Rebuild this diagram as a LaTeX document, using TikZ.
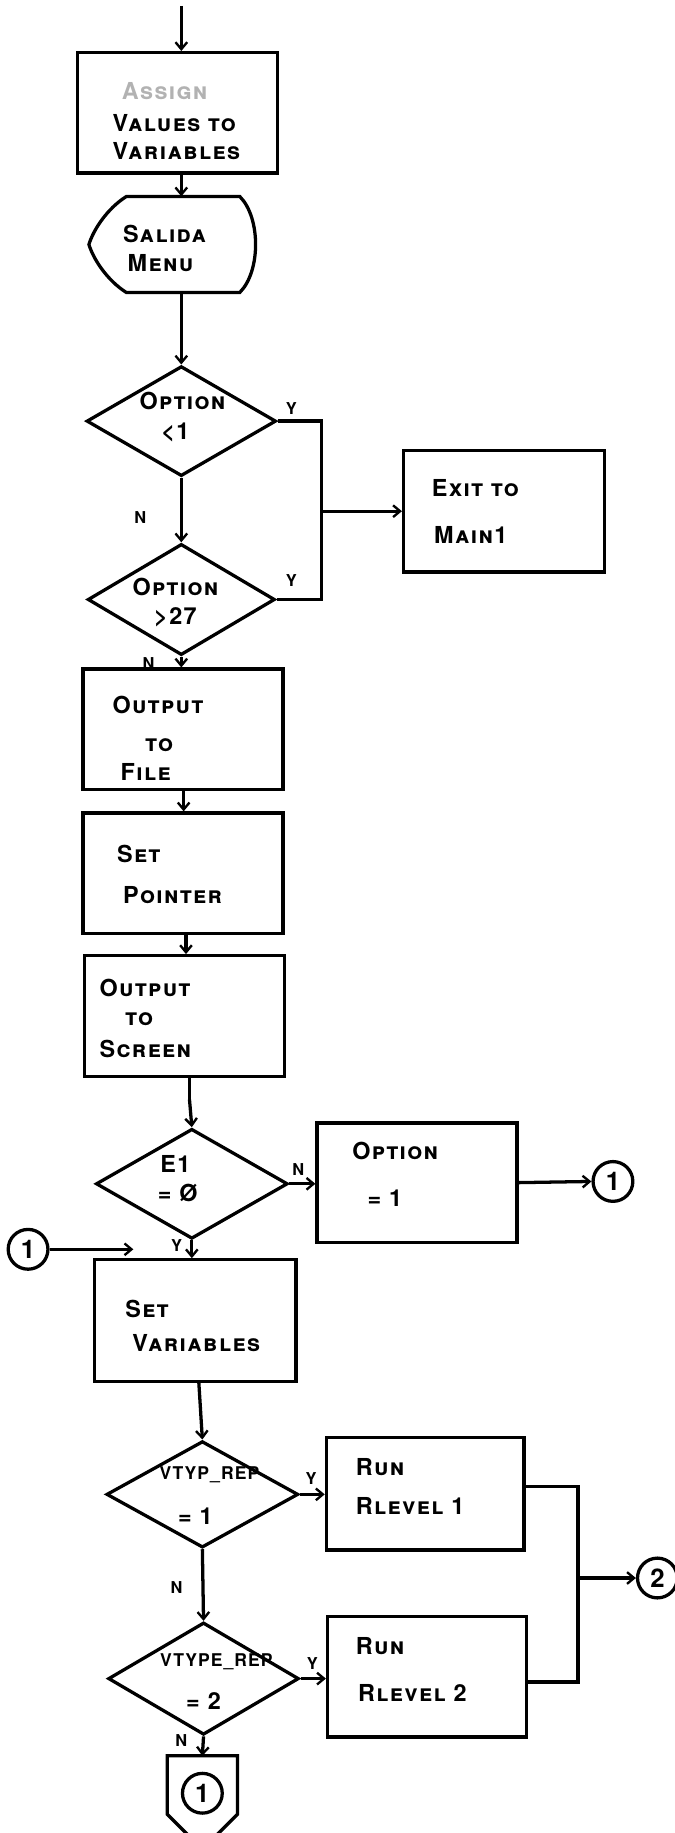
\documentclass[tikz,border=0pt]{standalone}
\usepackage{fontspec}
\newfontfamily\hand[LetterSpace=6]{TeX Gyre Heros}
\usetikzlibrary{shapes.geometric,arrows.meta,calc}
\tikzset{
  ln/.style={line width=2.8pt, line join=miter},
  arr/.style={ln, -{Straight Barb[length=6pt,width=10pt,line width=2pt]}},
  procbox/.style={draw, rectangle, line width=2.8pt, inner sep=0pt},
  dia/.style={draw, diamond, line width=2.8pt, inner sep=0pt},
  circ/.style={draw, circle, line width=2.8pt, inner sep=0pt, minimum size=34pt, font=\hand\bfseries\fontsize{22}{24}\selectfont},
  txt/.style={anchor=west, inner sep=0pt, font=\hand\bfseries\scshape\fontsize{20}{22}\selectfont},
  ctxt/.style={inner sep=0pt, font=\hand\bfseries\scshape\fontsize{20}{22}\selectfont},
  lab/.style={inner sep=0pt, font=\hand\bfseries\scshape\fontsize{14}{16}\selectfont}
}
\begin{document}
\begin{tikzpicture}[x=1pt,y=-1pt]
\useasboundingbox (0,0) rectangle (577,1567);
\clip (0,0) rectangle (577,1567);

% ---- boxes ----
\node[procbox, minimum width=171pt, minimum height=103pt] (b1) at (152,96.5) {};
\node[minimum width=144pt, minimum height=82pt, inner sep=0pt] (salida) at (148,209) {};
\draw[ln] (108,168) -- (205,168) .. controls (223,186) and (223,232) .. (205,250) -- (108,250)
  .. controls (92,240) and (80,222) .. (76,209) .. controls (80,196) and (92,178) .. (108,168) -- cycle;
\node[dia, minimum width=162pt, minimum height=94pt] (d1) at (155,360) {};
\node[dia, minimum width=160pt, minimum height=95pt] (d2) at (155,512.5) {};
\node[procbox, minimum width=172pt, minimum height=104pt] (exit) at (431,437) {};
\node[procbox, minimum width=171pt, minimum height=103pt] (file) at (156.5,623.5) {};
\node[procbox, minimum width=171pt, minimum height=103pt] (pointer) at (156.5,746.5) {};
\node[procbox, minimum width=171pt, minimum height=103pt] (screen) at (157.5,868.5) {};
\node[dia, minimum width=164pt, minimum height=94pt] (d3) at (164,1012) {};
\node[procbox, minimum width=171pt, minimum height=102pt] (opt1) at (356.5,1011) {};
\node[circ] (c1r) at (524,1010) {1};
\node[circ] (c1l) at (24,1068) {1};
\coordinate (c1tip) at (114,1068);
\node[procbox, minimum width=172pt, minimum height=104pt] (setvar) at (167,1129) {};
\node[dia, minimum width=164pt, minimum height=91pt] (d4) at (173,1277.5) {};
\node[procbox, minimum width=169pt, minimum height=96pt] (rl1) at (363.5,1277) {};
\node[dia, minimum width=163pt, minimum height=96pt] (d5) at (174,1435) {};
\node[procbox, minimum width=170pt, minimum height=103pt] (rl2) at (365,1433.5) {};
\node[circ] (c2) at (562,1349) {2};
\coordinate (offtop) at (173,1501);
\draw[ln] (143,1501) -- (203,1501) -- (203,1551) -- (173,1581) -- (143,1551) -- cycle;
\node[circ] (c3) at (173,1533) {1};

% ---- texts ----
\node[txt, text=black!30] (t1a) at (104,78) {Assign};
\node[txt] (t1b) at (96,105) {Values to};
\node[txt] (t1c) at (96,129) {Variables};
\node[txt] (t2a) at (105,200) {Salida};
\node[txt] (t2b) at (109,225) {Menu};
\node[ctxt] (t3a) at (156,343) {Option};
\node[ctxt] (t3b) at (150,370) {<1};
\node[ctxt] (t4a) at (150,502) {Option};
\node[ctxt] (t4b) at (150,528) {>27};
\node[txt] (t5a) at (369,417) {Exit to};
\node[txt] (t5b) at (371,457) {Main1};
\node[txt] (t6a) at (96,603) {Output};
\node[txt] (t6b) at (124,637) {to};
\node[txt] (t6c) at (103,660) {File};
\node[txt] (t7a) at (100,730) {Set};
\node[txt] (t7b) at (105,765) {Pointer};
\node[txt] (t8a) at (85,845) {Output};
\node[txt] (t8b) at (107,871) {to};
\node[txt] (t8c) at (85,897) {Screen};
\node[ctxt] (t9a) at (150,995) {E1};
\node[ctxt] (t9b) at (152,1020) {= \O};
\node[txt] (t10a) at (301,984) {Option};
\node[txt] (t10b) at (314,1024) {= 1};
\node[txt] (t11a) at (107,1119) {Set};
\node[txt] (t11b) at (113,1148) {Variables};
\node[ctxt, font=\hand\bfseries\scshape\fontsize{15}{17}\selectfont] (t12a) at (179,1261) {VTYP\_REP};
\node[ctxt] (t12b) at (167,1296) {= 1};
\node[txt] (t13a) at (304,1254) {Run};
\node[txt] (t13b) at (304,1287) {Rlevel 1};
\node[ctxt, font=\hand\bfseries\scshape\fontsize{15}{17}\selectfont] (t14a) at (185,1421) {VTYPE\_REP};
\node[ctxt] (t14b) at (174,1454) {= 2};
\node[txt] (t15a) at (304,1407) {Run};
\node[txt] (t15b) at (306,1447) {Rlevel 2};

% ---- branch labels ----
\node[lab] (y1) at (249,349) {Y};
\node[lab] (n1) at (120,442) {N};
\node[lab] (y2) at (249,496) {Y};
\node[lab] (n2) at (127,567) {N};
\node[lab] (n3) at (255,1000) {N};
\node[lab] (y3) at (151,1065) {Y};
\node[lab] (y4) at (266,1264) {Y};
\node[lab] (n4) at (151,1357) {N};
\node[lab] (y5) at (267,1422) {Y};
\node[lab] (n5) at (155,1488) {N};

% ---- connectors ----
\coordinate (start) at (155,5);
\coordinate (jx) at (275,437);
\coordinate (m) at (494,1349);
\draw[arr] (start) -- (start |- b1.north);
\draw[arr] (b1.south -| start) -- (salida.north -| start);
\draw[arr] (salida.south -| d1.north) -- (d1.north);
\draw[ln] (d1.east) -- (d1.east -| jx) -- (d2.east -| jx) -- (d2.east);
\draw[arr] (jx) -- (exit.west);
\draw[arr] (d1.south) -- (d2.north);
\draw[arr] (d2.south) -- (d2.south |- file.north);
\draw[arr] ([xshift=0.5pt]file.south) -- ([xshift=0.5pt]pointer.north);
\draw[arr] ([xshift=2.5pt]pointer.south) -- ([xshift=2.5pt]pointer.south |- screen.north);
\draw[ln] ([xshift=4.5pt]screen.south) -- ([xshift=4.5pt]screen.south |- 0,940);
\draw[arr] ([xshift=4.5pt]screen.south |- 0,940) -- (d3.north);
\draw[arr] (d3.east) -- (d3.east -| opt1.west);
\draw[arr] (opt1.east) -- (c1r.west);
\draw[arr] (d3.south) -- (d3.south |- setvar.north);
\draw[arr] (c1l.east) -- (c1tip);
\draw[arr] ([xshift=3pt]setvar.south) -- (d4.north);
\draw[arr] (d4.east) -- (d4.east -| rl1.west);
\draw[arr] (d4.south) -- (d5.north);
\draw[arr] (d5.east) -- (d5.east -| rl2.west);
\draw[arr] (d5.south) -- (offtop);
\draw[ln] ([yshift=6pt]rl1.east) -| (m) |- ([yshift=-4.5pt]rl2.east);
\draw[arr] (m) -- (c2.west);
\end{tikzpicture}
\end{document}
